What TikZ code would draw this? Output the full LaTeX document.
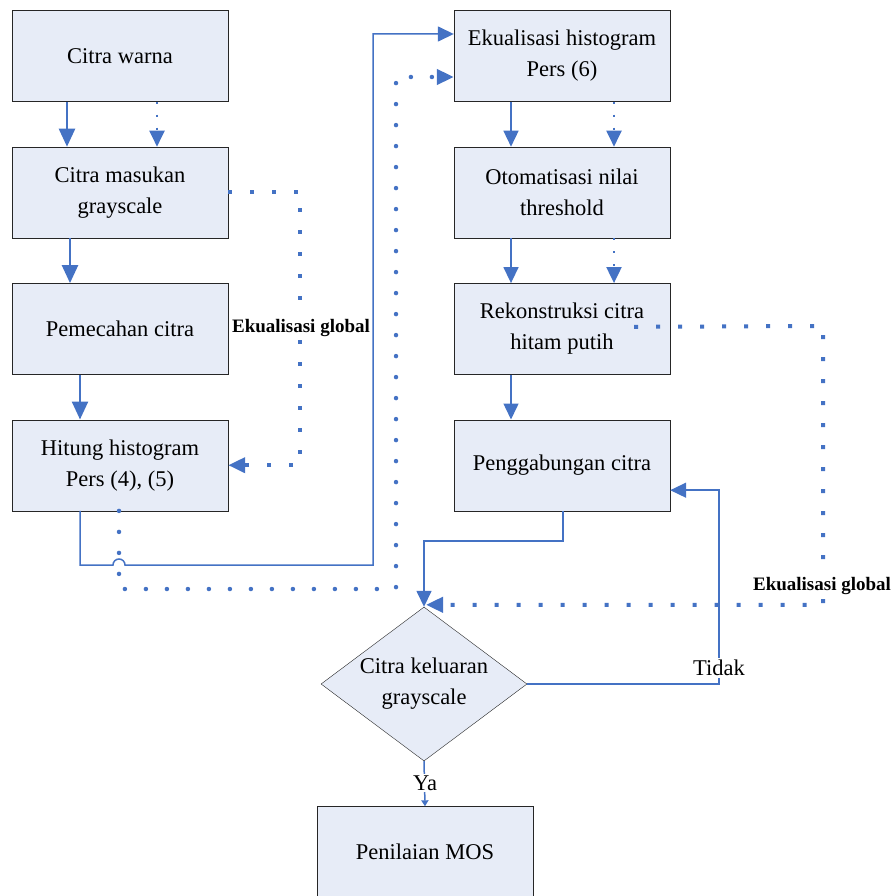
\documentclass[tikz,border=0pt]{standalone}
\usepackage{fontspec}
\setmainfont{Liberation Serif}
\usetikzlibrary{arrows.meta, positioning, shapes.geometric}
\definecolor{lineblue}{RGB}{68,114,196}
\definecolor{boxblue}{RGB}{231,236,247}
\tikzset{%
	box/.style={draw=black!85, fill=boxblue, rectangle, minimum width=216pt, minimum height=91pt,%
		inner sep=0pt, align=center, font=\fontsize{22.5}{31}\selectfont},
	cond/.style={draw=black!85, fill=boxblue, diamond, aspect=1.34, minimum width=206pt,%
		minimum height=154pt, inner sep=0pt, align=center, font=\fontsize{22.5}{31}\selectfont},
	flow/.style={draw=lineblue, line width=1.5pt, -{Triangle[width=15pt,length=16pt]}},
	thickflow/.style={flow, line width=2.5pt, -{Triangle[width=16pt,length=18pt]}},
	dotflow/.style={flow, line width=2pt, dash pattern=on 2pt off 11pt},
	global/.style={draw=lineblue, line width=4pt, dash pattern=on 4pt off 18pt,%
		-{Triangle[width=15pt,length=17pt]}},
	hitdot/.style={draw=lineblue, line width=4.5pt, line cap=round, dash pattern=on 0pt off 21pt,%
		-{Triangle[width=15pt,length=17pt]}},
	glabel/.style={fill=white, inner sep=1pt, font=\fontsize{19}{22}\bfseries\selectfont},
	txt/.style={fill=white, inner sep=2pt, font=\fontsize{22.5}{26}\selectfont}
}
\begin{document}
\begin{tikzpicture}[x=1pt, y=-1pt]
	\useasboundingbox (0,0) rectangle (895,896);
	% left column
	\node[box] (warna) at (120,56) {Citra warna};
	\node[box, below=45pt of warna] (masukan) {Citra masukan\\grayscale};
	\node[box, below=45pt of masukan] (pecah) {Pemecahan citra};
	\node[box, below=45pt of pecah] (hitung) {Hitung histogram\\Pers (4), (5)};
	% right column
	\node[box] (ekual) at (562,56) {Ekualisasi histogram\\Pers (6)};
	\node[box, below=45pt of ekual] (otomasi) {Otomatisasi nilai\\threshold};
	\node[box, below=45pt of otomasi] (rekon) {Rekonstruksi citra\\hitam putih};
	\node[box, below=45pt of rekon] (gabung) {Penggabungan citra};
	\node[cond] (keluaran) at (424,684) {Citra keluaran\\grayscale};
	\node[box] (mos) at (425,852) {Penilaian MOS};

	\draw[thickflow] ([xshift=-53pt]warna.south) -- ([xshift=-53pt]masukan.north);
	\draw[dotflow] ([xshift=37pt]warna.south) -- ([xshift=37pt]masukan.north);
	\draw[thickflow] ([xshift=-50pt]masukan.south) -- ([xshift=-50pt]pecah.north);
	\draw[thickflow] ([xshift=-40pt]pecah.south) -- ([xshift=-40pt]hitung.north);
	\draw[flow] ([xshift=-51pt]ekual.south) -- ([xshift=-51pt]otomasi.north);
	\draw[dotflow] ([xshift=52pt]ekual.south) -- ([xshift=52pt]otomasi.north);
	\draw[flow] ([xshift=-51pt]otomasi.south) -- ([xshift=-51pt]rekon.north);
	\draw[dotflow] ([xshift=52pt]otomasi.south) -- ([xshift=52pt]rekon.north);
	\draw[flow] ([xshift=-51pt]rekon.south) -- ([xshift=-51pt]gabung.north);

	% global equalisation, left
	\draw[global] (masukan.east) -- ++(72,0) |- (hitung.east);
	\node[glabel] (global1) at (301,328) {Ekualisasi global};

	% histogram to equalisation
	\draw[flow] ([xshift=-40pt]hitung.south) -- (80,565) -- (113,565)
		arc[start angle=180, end angle=0, radius=6pt] -- (373,565) -- (373,34) -- ([yshift=22pt]ekual.west);
	\draw[hitdot] ([xshift=-1pt]hitung.south) |- (396,589) |- ([yshift=-21pt]ekual.west);

	% global equalisation, right
	\draw[global] ([xshift=-36pt,yshift=2pt]rekon.east) -- (823,326) |- ([xshift=2pt,yshift=2pt]keluaran.north);
	\node[glabel] (global2) at (822,586) {Ekualisasi global};

	\draw[flow] ([xshift=1pt]gabung.south) -- (563,541) -| (keluaran.north);
	\draw[flow] (keluaran.east) -- (719,684) |- ([yshift=-25pt]gabung.east);
	\node[txt] (tidak) at (719,668) {Tidak};
	\draw[flow, -{Triangle[width=7pt,length=6pt]}] (keluaran.south) -- (mos.north);
	\node[txt] (ya) at (425,783) {Ya};
\end{tikzpicture}
\end{document}
